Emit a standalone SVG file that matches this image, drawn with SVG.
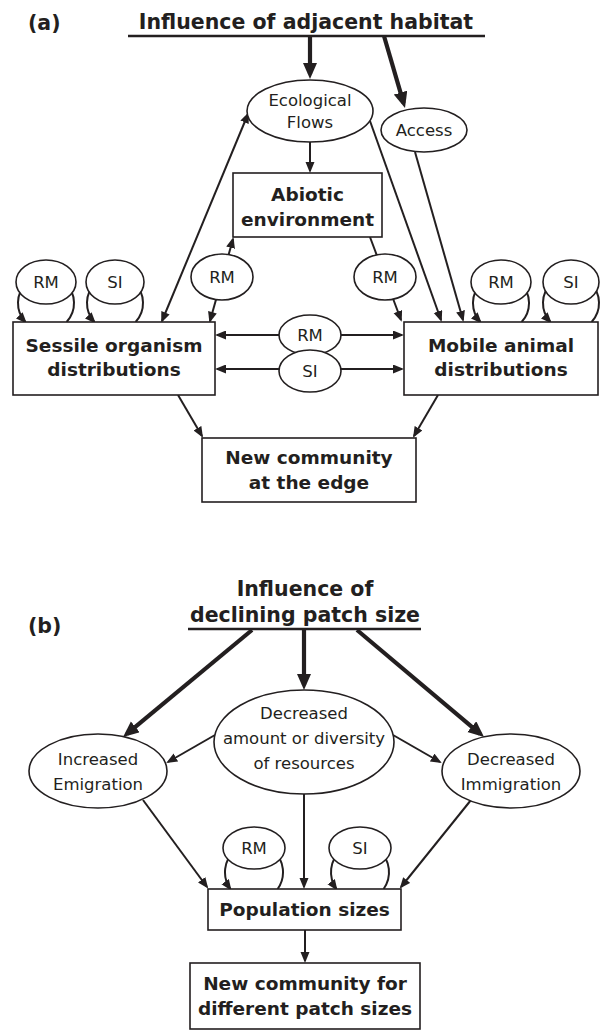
<svg xmlns="http://www.w3.org/2000/svg" width="605" height="1036" viewBox="0 0 605 1036">
<defs>
<style>
text{font-family:"DejaVu Sans","Liberation Sans",sans-serif;fill:#231f20;text-anchor:middle}
.b{font-weight:bold;font-size:18.5px}
.t{font-weight:bold;font-size:20.5px}
.r{font-size:16.5px}
.box{fill:#fff;stroke:#231f20;stroke-width:1.6}
.el{fill:#fff;stroke:#231f20;stroke-width:1.6}
.ln{fill:none;stroke:#231f20;stroke-width:2}
.thick{fill:none;stroke:#231f20;stroke-width:4.2}
.ul{stroke:#231f20;stroke-width:2.5}
</style>
<marker id="ah" markerUnits="userSpaceOnUse" markerWidth="13" markerHeight="10" refX="9" refY="4.5" orient="auto">
<path d="M0,0 L11,4.5 L0,9 z" fill="#231f20"/>
</marker>
<marker id="ahs" markerUnits="userSpaceOnUse" markerWidth="13" markerHeight="10" refX="2" refY="4.5" orient="auto">
<path d="M11,0 L0,4.5 L11,9 z" fill="#231f20"/>
</marker>
<marker id="ahT" markerUnits="userSpaceOnUse" markerWidth="18" markerHeight="16" refX="11" refY="7" orient="auto">
<path d="M0,0 L16,7 L0,14 z" fill="#231f20"/>
</marker>
</defs>

<g id="connectors">
<!-- (a) -->
<line class="thick" x1="310" y1="36" x2="310" y2="74" marker-end="url(#ahT)"/>
<line class="thick" x1="384" y1="36" x2="403.6" y2="103.2" marker-end="url(#ahT)"/>
<line class="ln" x1="310" y1="142" x2="310" y2="171" marker-end="url(#ah)"/>
<line class="ln" x1="162" y1="321" x2="248" y2="114" marker-start="url(#ahs)" marker-end="url(#ah)"/>
<line class="ln" x1="370" y1="121" x2="441" y2="320" marker-end="url(#ah)"/>
<line class="ln" x1="415" y1="152" x2="463" y2="320" marker-end="url(#ah)"/>
<line class="ln" x1="210" y1="321" x2="233" y2="239" marker-start="url(#ahs)" marker-end="url(#ah)"/>
<line class="ln" x1="370" y1="237" x2="401" y2="320" marker-end="url(#ah)"/>
<line class="ln" x1="217" y1="335" x2="402" y2="335" marker-start="url(#ahs)" marker-end="url(#ah)"/>
<line class="ln" x1="217" y1="369" x2="402" y2="369" marker-start="url(#ahs)" marker-end="url(#ah)"/>
<line class="ln" x1="178" y1="395" x2="202" y2="436" marker-end="url(#ah)"/>
<line class="ln" x1="438" y1="395" x2="414" y2="436" marker-end="url(#ah)"/>
<path class="ln" d="M66.6,322 A28,28 0 1 0 25.4,322" marker-end="url(#ah)"/>
<path class="ln" d="M135.6,322 A28,28 0 1 0 94.4,322" marker-end="url(#ah)"/>
<path class="ln" d="M521.6,322 A28,28 0 1 0 480.4,322" marker-end="url(#ah)"/>
<path class="ln" d="M591.6,322 A28,28 0 1 0 550.4,322" marker-end="url(#ah)"/>
<!-- (b) -->
<line class="thick" x1="252" y1="630" x2="126.9" y2="733.8" marker-end="url(#ahT)"/>
<line class="thick" x1="304" y1="630" x2="304" y2="685" marker-end="url(#ahT)"/>
<line class="thick" x1="357" y1="630" x2="480.2" y2="733.8" marker-end="url(#ahT)"/>
<line class="ln" x1="215" y1="735" x2="168" y2="762" marker-end="url(#ah)"/>
<line class="ln" x1="393" y1="735" x2="440" y2="762" marker-end="url(#ah)"/>
<line class="ln" x1="143" y1="800" x2="207" y2="887" marker-end="url(#ah)"/>
<line class="ln" x1="304" y1="794" x2="304" y2="887" marker-end="url(#ah)"/>
<line class="ln" x1="471" y1="800" x2="401" y2="887" marker-end="url(#ah)"/>
<line class="ln" x1="305" y1="930" x2="305" y2="961" marker-end="url(#ah)"/>
<path class="ln" d="M277.6,889 A29,29 0 1 0 230.4,889" marker-end="url(#ah)"/>
<path class="ln" d="M383.6,889 A29,29 0 1 0 336.4,889" marker-end="url(#ah)"/>
</g>

<g id="label-a"><text class="t" x="28" y="30" style="text-anchor:start">(a)</text></g>
<g id="title-a">
<text class="t" x="306" y="29">Influence of adjacent habitat</text>
<line class="ul" x1="128" y1="36" x2="485" y2="36"/>
</g>
<g id="ecological-flows">
<ellipse class="el" cx="310" cy="111" rx="63" ry="31"/>
<text class="r" x="310" y="106">Ecological</text>
<text class="r" x="310" y="128">Flows</text>
</g>
<g id="access">
<ellipse class="el" cx="424" cy="130" rx="43" ry="22"/>
<text class="r" x="424" y="136">Access</text>
</g>
<g id="abiotic">
<rect class="box" x="233" y="173" width="149" height="64"/>
<text class="b" x="307.5" y="201">Abiotic</text>
<text class="b" x="307.5" y="226">environment</text>
</g>
<g id="rm-abiotic-sessile">
<ellipse class="el" cx="222" cy="277" rx="31" ry="23"/>
<text class="r" x="222" y="283">RM</text>
</g>
<g id="rm-abiotic-mobile">
<ellipse class="el" cx="385" cy="277" rx="31" ry="23"/>
<text class="r" x="385" y="283">RM</text>
</g>
<g id="rm-sessile-loop">
<ellipse class="el" cx="46" cy="282" rx="30" ry="22"/>
<text class="r" x="46" y="288">RM</text>
</g>
<g id="si-sessile-loop">
<ellipse class="el" cx="115" cy="282" rx="29" ry="22"/>
<text class="r" x="115" y="288">SI</text>
</g>
<g id="rm-mobile-loop">
<ellipse class="el" cx="501" cy="282" rx="30" ry="22"/>
<text class="r" x="501" y="288">RM</text>
</g>
<g id="si-mobile-loop">
<ellipse class="el" cx="571" cy="282" rx="28" ry="22"/>
<text class="r" x="571" y="288">SI</text>
</g>
<g id="sessile">
<rect class="box" x="13" y="322" width="202" height="73"/>
<text class="b" x="114" y="352">Sessile organism</text>
<text class="b" x="114" y="376">distributions</text>
</g>
<g id="mobile">
<rect class="box" x="404" y="322" width="194" height="73"/>
<text class="b" x="501" y="352">Mobile animal</text>
<text class="b" x="501" y="376">distributions</text>
</g>
<g id="rm-center">
<ellipse class="el" cx="310" cy="335" rx="31" ry="20"/>
<text class="r" x="310" y="341">RM</text>
</g>
<g id="si-center">
<ellipse class="el" cx="310" cy="371" rx="31" ry="21"/>
<text class="r" x="310" y="377">SI</text>
</g>
<g id="new-community-edge">
<rect class="box" x="202" y="438" width="214" height="64"/>
<text class="b" x="309" y="464">New community</text>
<text class="b" x="309" y="489">at the edge</text>
</g>

<g id="label-b"><text class="t" x="28" y="633" style="text-anchor:start">(b)</text></g>
<g id="title-b">
<text class="t" x="305" y="596">Influence of</text>
<text class="t" x="305" y="622">declining patch size</text>
<line class="ul" x1="188" y1="629" x2="421" y2="629"/>
</g>
<g id="decreased-resources">
<ellipse class="el" cx="304" cy="742" rx="90" ry="52"/>
<text class="r" x="304" y="719">Decreased</text>
<text class="r" x="304" y="744">amount or diversity</text>
<text class="r" x="304" y="769">of resources</text>
</g>
<g id="increased-emigration">
<ellipse class="el" cx="98" cy="771" rx="69" ry="37"/>
<text class="r" x="98" y="765">Increased</text>
<text class="r" x="98" y="790">Emigration</text>
</g>
<g id="decreased-immigration">
<ellipse class="el" cx="511" cy="771" rx="69" ry="37"/>
<text class="r" x="511" y="765">Decreased</text>
<text class="r" x="511" y="790">Immigration</text>
</g>
<g id="rm-population">
<ellipse class="el" cx="254" cy="848" rx="31" ry="21"/>
<text class="r" x="254" y="854">RM</text>
</g>
<g id="si-population">
<ellipse class="el" cx="360" cy="848" rx="31" ry="21"/>
<text class="r" x="360" y="854">SI</text>
</g>
<g id="population-sizes">
<rect class="box" x="208" y="889" width="193" height="41"/>
<text class="b" x="304.5" y="916">Population sizes</text>
</g>
<g id="new-community-patch">
<rect class="box" x="190" y="963" width="230" height="66"/>
<text class="b" x="305" y="990">New community for</text>
<text class="b" x="305" y="1015">different patch sizes</text>
</g>
</svg>
